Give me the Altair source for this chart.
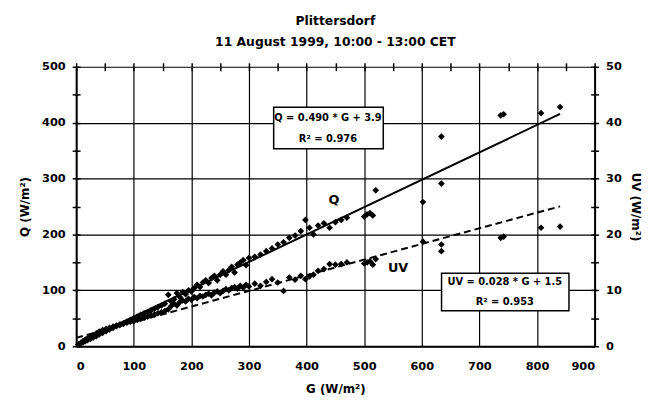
import altair as alt
import pandas as pd

# ---- data ----
G = [4, 8, 12, 16, 20, 25, 30, 35, 40, 46, 52, 58, 64, 70, 76, 82, 88, 94, 100, 106,
     112, 118, 124, 130, 136, 142, 148, 154, 160, 165, 170, 175, 180, 185, 190, 195, 200,
     205, 210, 215, 220, 225, 230, 235, 240, 245, 250, 255, 260, 265, 270, 275, 280, 285,
     290, 295, 300, 310, 320, 330, 340, 350, 360, 370, 380, 390, 398, 405, 412, 420, 430,
     440, 450, 460, 470, 500, 505, 510, 515, 520, 602, 634, 634, 737, 742, 807, 840]
Q = [3, 5, 7, 9, 11, 13, 16, 18, 21, 24, 27, 30, 33, 36, 38, 41, 44, 47, 50, 53,
     56, 59, 61, 64, 67, 70, 73, 76, 92, 80, 84, 95, 88, 97, 93, 100, 98,
     104, 110, 106, 114, 118, 113, 122, 126, 118, 128, 134, 128, 136, 142, 132, 146, 150,
     154, 145, 158, 160, 164, 170, 175, 182, 186, 194, 198, 206, 226, 212, 200, 216, 220,
     212, 222, 226, 230, 232, 236, 238, 234, 279, 258, 375, 291, 413, 415, 417, 428]
UV = [0.3, 0.6, 0.9, 1.2, 1.4, 1.7, 2.0, 2.3, 2.6, 2.9, 3.1, 3.3, 3.5, 3.7, 3.9, 4.0, 4.2, 4.4, 4.5, 4.7,
      4.9, 5.1, 5.3, 5.5, 5.7, 5.9, 6.1, 6.3, 6.6, 7.2, 7.6, 7.3, 7.9, 8.2, 8.0, 8.5, 8.3,
      8.8, 8.6, 9.0, 8.9, 9.2, 9.4, 9.1, 9.6, 9.8, 9.5, 9.9, 10.2, 10.0, 10.4, 10.6, 10.3, 10.8,
      10.5, 11.0, 10.7, 11.2, 10.8, 11.5, 12.0, 11.4, 9.9, 12.3, 11.9, 12.6, 12.0, 12.5, 12.8, 13.5, 13.8,
      14.7, 14.6, 14.7, 15.0, 14.8, 15.0, 15.2, 14.6, 15.6, 18.7, 18.2, 17.0, 19.4, 19.6, 21.2, 21.4]

# fit equations shown on the chart
Q_SLOPE, Q_ICPT, Q_R2 = 0.490, 3.9, 0.976
UV_SLOPE, UV_ICPT, UV_R2 = 0.028, 1.5, 0.953
FIT_G = [0, 840]

TITLE = ["Plittersdorf", "11 August 1999, 10:00 - 13:00 CET"]
G_TICKS = list(range(0, 901, 100))
Q_TICKS = list(range(0, 501, 100))
UV_TICKS = list(range(0, 51, 10))
G_MINOR = list(range(0, 901, 50))
Q_MINOR = list(range(0, 501, 50))
UV_MINOR = list(range(0, 51, 5))

FONT = "DejaVu Sans"

df = pd.DataFrame({"G": G, "Q": Q, "UV": UV})
fit_q = pd.DataFrame({"G": FIT_G, "Q": [Q_SLOPE * g + Q_ICPT for g in FIT_G]})
fit_uv = pd.DataFrame({"G": FIT_G, "UV": [UV_SLOPE * g + UV_ICPT for g in FIT_G]})

xs = alt.Scale(domain=[0, 900], nice=False, zero=False)
qs = alt.Scale(domain=[0, 500], nice=False, zero=False)
us = alt.Scale(domain=[0, 50], nice=False, zero=False)

lab = dict(labelFont=FONT, labelFontWeight="bold", labelFontSize=11.5, labelColor="black",
           titleFont=FONT, titleFontWeight="bold", titleFontSize=12, titleColor="black")

x_main = alt.Axis(values=G_TICKS, grid=True, gridColor="black", gridWidth=1.2, gridOpacity=1,
                  ticks=False, domain=True, domainColor="black", domainWidth=2,
                  labelPadding=15, title="G   (W/m²)", titlePadding=11, **lab)
y_main = alt.Axis(values=Q_TICKS, grid=True, gridColor="black", gridWidth=1.2, gridOpacity=1,
                  ticks=False, domain=True, domainColor="black", domainWidth=2,
                  labelPadding=11, title="Q   (W/m²)", titlePadding=10, **lab)
y_right = alt.Axis(values=UV_TICKS, orient="right", grid=False,
                   ticks=False, domain=True, domainColor="black", domainWidth=2,
                   labelPadding=11, title="UV   (W/m²)", titleAngle=90, titlePadding=7, **lab)

def tick_axis(vals, orient=None):
    kw = dict(values=vals, grid=False, labels=False, domain=False, ticks=True,
              tickColor="black", tickWidth=1.5, tickSize=8, offset=-4, title=None)
    if orient:
        kw["orient"] = orient
    return alt.Axis(**kw)

pts_q = alt.Chart(df).mark_point(shape="diamond", filled=True, size=46, color="black", opacity=1).encode(
    x=alt.X("G:Q", scale=xs, axis=x_main),
    y=alt.Y("Q:Q", scale=qs, axis=y_main),
)
line_q = alt.Chart(fit_q).mark_line(color="black", strokeWidth=2).encode(
    x=alt.X("G:Q", scale=xs, axis=None),
    y=alt.Y("Q:Q", scale=qs, axis=None),
)
pts_uv = alt.Chart(df).mark_point(shape="diamond", filled=True, size=46, color="black", opacity=1).encode(
    x=alt.X("G:Q", scale=xs, axis=None),
    y=alt.Y("UV:Q", scale=us, axis=y_right),
)
line_uv = alt.Chart(fit_uv).mark_line(color="black", strokeWidth=2, strokeDash=[7, 4]).encode(
    x=alt.X("G:Q", scale=xs, axis=None),
    y=alt.Y("UV:Q", scale=us, axis=None),
)
ticks_left = alt.Chart(df).mark_point(opacity=0).encode(
    x=alt.X("G:Q", scale=xs, axis=tick_axis(G_MINOR)),
    y=alt.Y("Q:Q", scale=qs, axis=tick_axis(Q_MINOR)),
)
ticks_right = alt.Chart(df).mark_point(opacity=0).encode(
    x=alt.X("G:Q", scale=xs, axis=None),
    y=alt.Y("UV:Q", scale=us, axis=tick_axis(UV_MINOR, "right")),
)

# annotation boxes
box_q = alt.Chart(pd.DataFrame({"a": [0]})).mark_rect(fill="white", stroke="black", strokeWidth=1.5).encode(
    x=alt.value(200), x2=alt.value(311), y=alt.value(41), y2=alt.value(83))
box_uv = alt.Chart(pd.DataFrame({"a": [0]})).mark_rect(fill="white", stroke="black", strokeWidth=1.5).encode(
    x=alt.value(370), x2=alt.value(499), y=alt.value(209), y2=alt.value(247))

txt_kw = dict(font=FONT, fontWeight="bold", fontSize=10, color="black", align="center", baseline="middle")
eq_q = pd.DataFrame({"t": [f"Q = {Q_SLOPE:.3f} * G + {Q_ICPT}", f"R² = {Q_R2:.3f}"], "yy": [52, 73]})
eq_uv = pd.DataFrame({"t": [f"UV = {UV_SLOPE:.3f} * G + {UV_ICPT}", f"R² = {UV_R2:.3f}"], "yy": [218, 238]})
text_q = alt.Chart(eq_q).mark_text(**txt_kw).encode(
    x=alt.value(255), y=alt.Y("yy:Q", scale=None), text="t:N")
text_uv = alt.Chart(eq_uv).mark_text(**txt_kw).encode(
    x=alt.value(434), y=alt.Y("yy:Q", scale=None), text="t:N")

series_lab = pd.DataFrame({"t": ["Q", "UV"], "xx": [261, 326], "yy": [135, 204]})
lbl = alt.Chart(series_lab).mark_text(font=FONT, fontWeight="bold", fontSize=13, color="black",
                                       align="center", baseline="middle").encode(
    x=alt.X("xx:Q", scale=None), y=alt.Y("yy:Q", scale=None), text="t:N")

chart = alt.layer(
    pts_q, line_q, pts_uv, line_uv, ticks_left, ticks_right,
    box_q, box_uv, text_q, text_uv, lbl
).resolve_scale(y="independent").resolve_axis(x="independent", y="independent").properties(
    width=525, height=283,
    autosize=alt.AutoSizeParams(type="none"),
    padding={"left": 69, "top": 57, "right": 51, "bottom": 56},
    title=alt.TitleParams(text=TITLE, font=FONT, fontWeight="bold", fontSize=12.5, color="black",
                          anchor="middle", offset=12, lineHeight=22),
).configure_view(stroke=None)

chart.save("out.html", embed_options={"renderer": "svg", "actions": False})
